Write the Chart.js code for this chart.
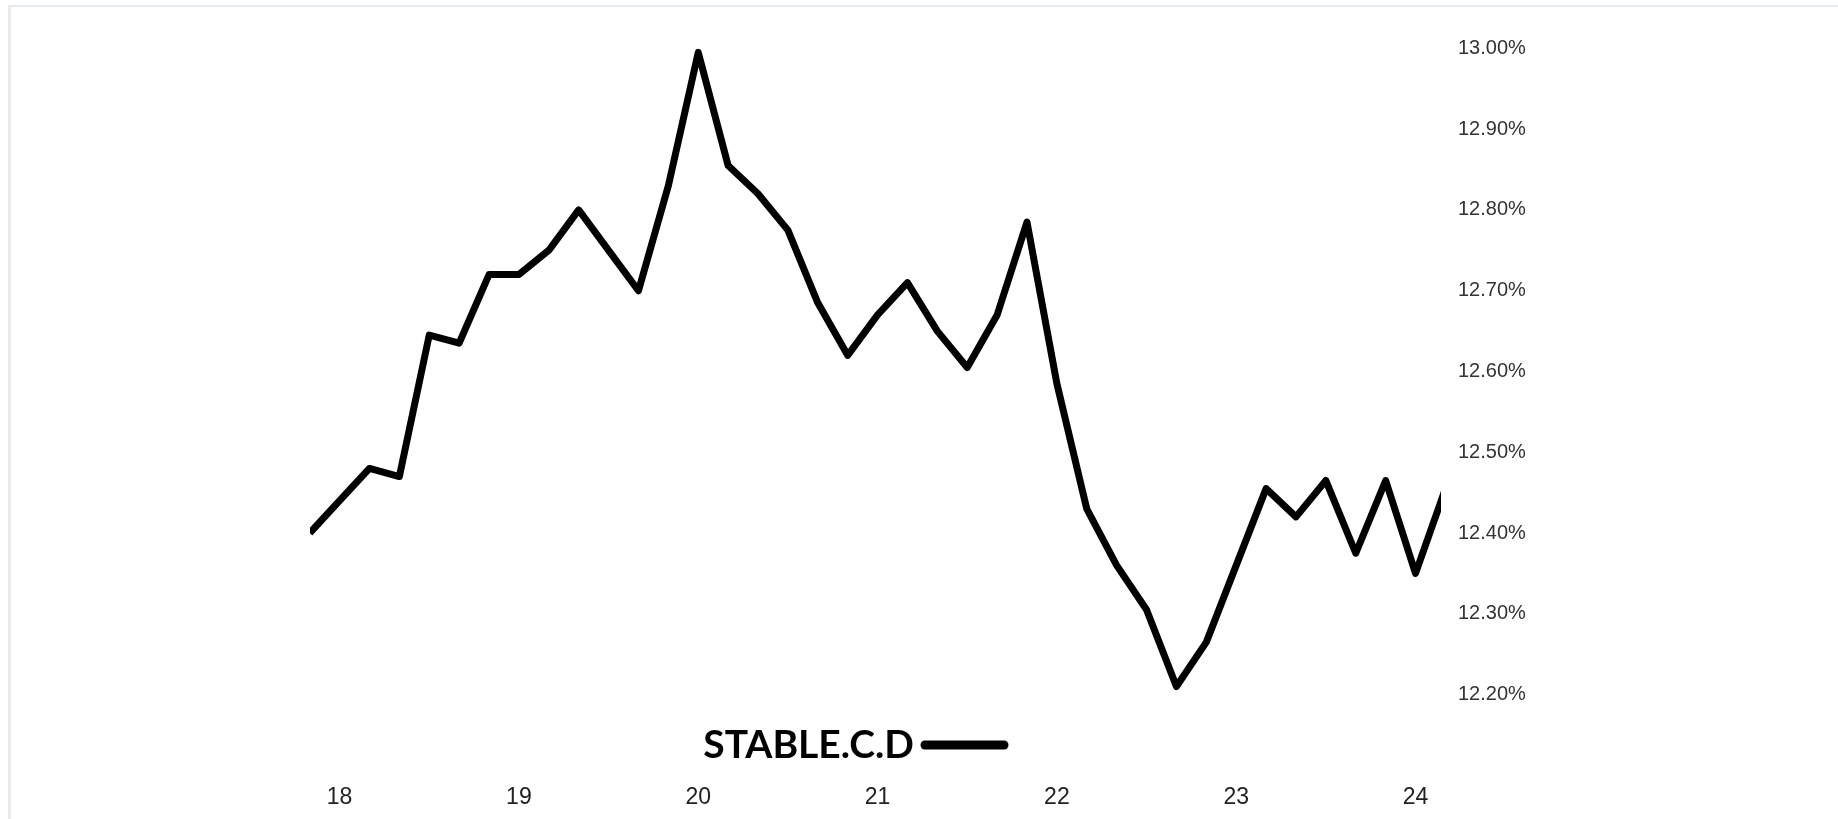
<!DOCTYPE html>
<html>
<head>
<meta charset="utf-8">
<title>STABLE.C.D</title>
<script src="https://cdn.jsdelivr.net/npm/chart.js@4.4.1/dist/chart.umd.min.js"></script>
<style>
  html, body { margin: 0; padding: 0; background: #ffffff; overflow: hidden; }
  #wrap { position: relative; width: 1838px; height: 819px; }
  #frame {
    position: absolute; left: 8px; top: 5px; right: 0; height: 900px;
    border-left: 3px solid #e6ebf0; border-top: 2px solid #e6ebf0;
    pointer-events: none;
  }
  #chart { position: absolute; left: 0; top: 0; }
</style>
</head>
<body>
<div id="wrap">
  <div id="frame"></div>
  <canvas id="chart" width="1838" height="819"></canvas>
</div>
<script>
// Bimonthly observations (year-month) and the series value in percent
const periods = [
  '2017-11',
  '2018-01', '2018-03', '2018-05', '2018-07', '2018-09', '2018-11',
  '2019-01', '2019-03', '2019-05', '2019-07', '2019-09', '2019-11',
  '2020-01', '2020-03', '2020-05', '2020-07', '2020-09', '2020-11',
  '2021-01', '2021-03', '2021-05', '2021-07', '2021-09', '2021-11',
  '2022-01', '2022-03', '2022-05', '2022-07', '2022-09', '2022-11',
  '2023-01', '2023-03', '2023-05', '2023-07', '2023-09', '2023-11',
  '2024-01', '2024-03'
];
const stableCD = [
  12.40,
  12.44, 12.48, 12.47, 12.645, 12.635, 12.72,
  12.72, 12.75, 12.80, 12.75, 12.70, 12.83,
  12.995, 12.855, 12.82, 12.775, 12.685, 12.62,
  12.67, 12.71, 12.65, 12.605, 12.67, 12.785,
  12.585, 12.43, 12.36, 12.305, 12.21, 12.265,
  12.36, 12.455, 12.42, 12.465, 12.375, 12.465,
  12.35, 12.455
];
const seriesName = 'STABLE.C.D';

// Axis ticks
const xTickValues = [18, 19, 20, 21, 22, 23, 24];
const xTickLabels = ['18', '19', '20', '21', '22', '23', '24'];
const yTickValues = [12.2, 12.3, 12.4, 12.5, 12.6, 12.7, 12.8, 12.9, 13.0];
const yTickLabels = ['12.20%', '12.30%', '12.40%', '12.50%', '12.60%', '12.70%', '12.80%', '12.90%', '13.00%'];

// Year-month string -> two-digit year with fraction
function periodToX(p) {
  const [y, m] = p.split('-').map(Number);
  return (y - 2000) + (m - 1) / 12;
}
const points = periods.map((p, i) => ({ x: periodToX(p), y: stableCD[i] }));

// Series key drawn between the plot and the year labels
const seriesKey = {
  id: 'seriesKey',
  afterDraw(chart, args, opts) {
    const ds = chart.data.datasets[0];
    const ctx = chart.ctx;
    ctx.save();
    ctx.font = 'bold ' + opts.fontSize + 'px ' + opts.family;
    ctx.fillStyle = ds.borderColor;
    ctx.textAlign = 'right';
    ctx.textBaseline = 'alphabetic';
    ctx.fillText(ds.label, opts.textRight, opts.baseline);
    ctx.beginPath();
    ctx.lineCap = 'round';
    ctx.lineWidth = opts.lineWidth;
    ctx.strokeStyle = ds.borderColor;
    ctx.moveTo(opts.lineStart, opts.lineY);
    ctx.lineTo(opts.lineStart + opts.lineLength, opts.lineY);
    ctx.stroke();
    ctx.restore();
  }
};

new Chart(document.getElementById('chart'), {
  type: 'line',
  data: {
    datasets: [{
      label: seriesName,
      data: points,
      borderColor: '#000000',
      backgroundColor: '#000000',
      borderWidth: 7,
      borderJoinStyle: 'round',
      borderCapStyle: 'butt',
      pointRadius: 0,
      tension: 0,
      fill: false,
      clip: 0
    }]
  },
  options: {
    responsive: false,
    animation: false,
    devicePixelRatio: 1,
    layout: { padding: { left: 310, right: 297, top: 8, bottom: 9 } },
    plugins: {
      legend: { display: false },
      tooltip: { enabled: false },
      seriesKey: {
        family: 'Lato, "Open Sans", sans-serif',
        fontSize: 39,
        textRight: 914,
        baseline: 758,
        lineStart: 925,
        lineLength: 79,
        lineY: 745,
        lineWidth: 9
      }
    },
    scales: {
      x: {
        type: 'linear',
        min: 17.835,
        max: 24.142,
        grid: { display: false, drawTicks: false },
        border: { display: false },
        afterBuildTicks: (scale) => { scale.ticks = xTickValues.map(v => ({ value: v })); },
        afterFit: (scale) => {
          scale.height = 75;
          scale.paddingLeft = 0;
          scale.paddingRight = 0;
        },
        ticks: {
          autoSkip: false,
          maxRotation: 0,
          padding: 49,
          color: '#222222',
          font: { family: '"Liberation Sans", Arial, sans-serif', size: 23 },
          callback: (v) => xTickLabels[xTickValues.indexOf(v)]
        }
      },
      y: {
        position: 'right',
        min: 12.15,
        max: 13.05,
        grid: { display: false, drawTicks: false },
        border: { display: false },
        afterBuildTicks: (scale) => { scale.ticks = yTickValues.map(v => ({ value: v })); },
        afterFit: (scale) => {
          scale.width = 100;
          scale.paddingTop = 0;
          scale.paddingBottom = 0;
        },
        ticks: {
          padding: 17,
          color: '#333333',
          font: { family: '"Liberation Sans", Arial, sans-serif', size: 20 },
          callback: (v) => {
            const i = yTickValues.findIndex(t => Math.abs(t - v) < 1e-9);
            return i >= 0 ? yTickLabels[i] : '';
          }
        }
      }
    }
  },
  plugins: [seriesKey]
});
</script>
</body>
</html>
